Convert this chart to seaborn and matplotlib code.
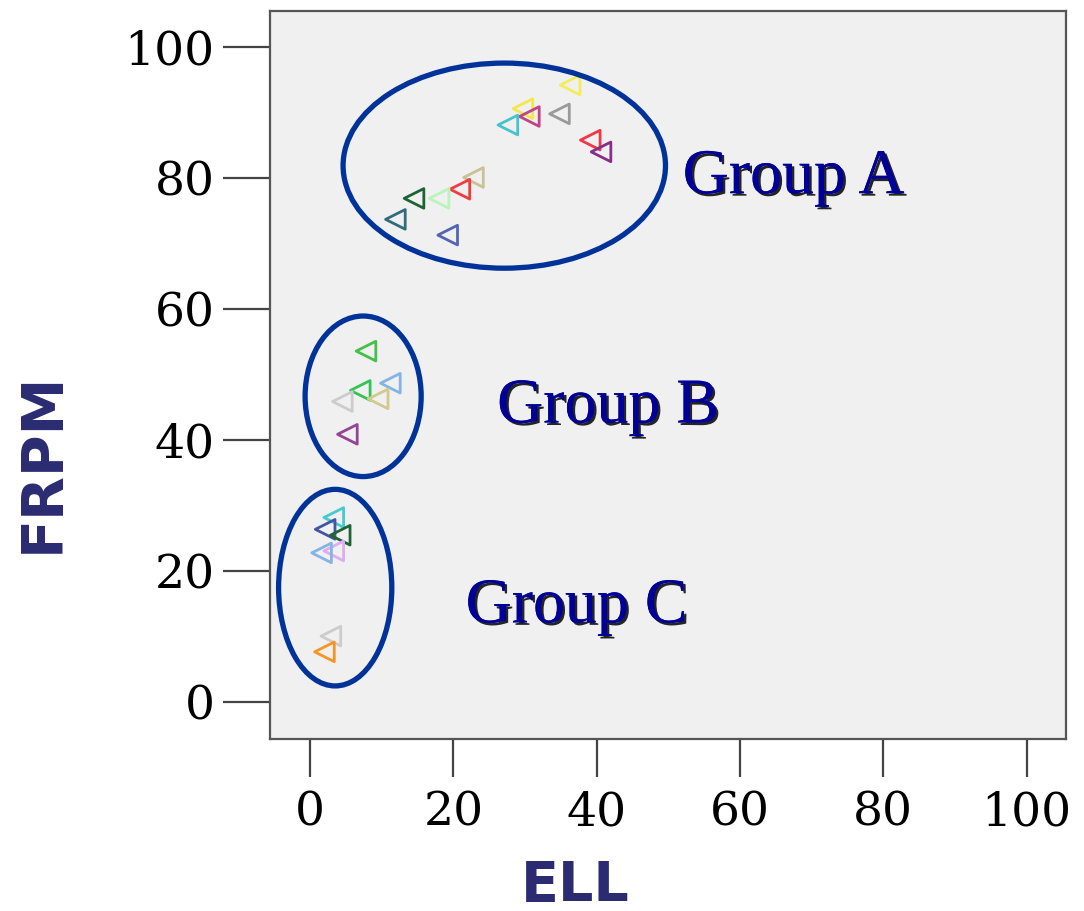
import matplotlib
matplotlib.use("Agg")
import matplotlib.pyplot as plt
import matplotlib.patheffects as pe
from matplotlib.patches import Ellipse
import seaborn as sns
import pandas as pd

# ---- data ----
ell = [36.3, 29.7, 30.6, 34.8, 27.6, 39.1, 40.6, 22.8, 20.9, 18.0, 14.5, 11.9, 19.2,
       7.8, 11.2, 7.0, 9.5, 4.5, 5.2,
       3.3, 2.1, 4.2, 3.3, 1.6, 2.9, 2.0]
frpm = [94.2, 90.6, 89.4, 89.8, 88.1, 85.8, 84.0, 80.1, 78.3, 76.9, 76.9, 73.7, 71.3,
        53.6, 48.7, 47.6, 46.3, 45.9, 40.9,
        28.2, 26.4, 25.5, 23.1, 22.8, 10.1, 7.7]
point_colors = ["#f2ee5a", "#f2e84c", "#c04488", "#9a9a9a", "#44c4cc", "#f03848", "#843088",
                "#c8c294", "#f03c40", "#bcf2bc", "#1c6434", "#306c7c", "#5464b4",
                "#44c048", "#84b4e4", "#34c454", "#d2ca8c", "#cccccc", "#944494",
                "#44cccc", "#4454a4", "#206434", "#dcacf4", "#84b4e4", "#cccccc", "#f89424"]
schools = [f"S{i+1}" for i in range(len(ell))]

group_labels = ["Group A", "Group B", "Group C"]
label_x = [52.0, 26.1, 21.7]
label_y = [77.7, 42.7, 12.2]
ell_cx = [27.1, 7.4, 3.5]
ell_cy = [81.9, 46.7, 17.5]
ell_w = [45.0, 16.2, 15.8]
ell_h = [31.3, 24.5, 30.0]

x_ticks = [0, 20, 40, 60, 80, 100]
y_ticks = [0, 20, 40, 60, 80, 100]

df = pd.DataFrame({"ELL": ell, "FRPM": frpm, "school": schools})

sns.set_style("white")
fig = plt.figure(figsize=(10.84, 9.11), dpi=100)
ax = fig.add_axes([270 / 1084, 1 - 739 / 911, (1066 - 270) / 1084, (739 - 11) / 911])
ax.set_facecolor("#f0f0f0")

sns.scatterplot(data=df, x="ELL", y="FRPM", hue="school", palette=point_colors,
                marker="<", s=200, legend=False, ax=ax, zorder=3)
for coll in ax.collections:
    fc = coll.get_facecolors()
    coll.set_edgecolors(fc)
    coll.set_facecolors("none")
    coll.set_linewidths(2.0)

for cx, cy, w, h in zip(ell_cx, ell_cy, ell_w, ell_h):
    ax.add_patch(Ellipse((cx, cy), w, h, fill=False, edgecolor="#003399", linewidth=3.8, zorder=4))

for t, x, y in zip(group_labels, label_x, label_y):
    ax.text(x, y, t, fontsize=46, family="Liberation Serif", color="#000099",
            ha="left", va="baseline", zorder=5,
            path_effects=[pe.withSimplePatchShadow(offset=(1.8, -1.8), shadow_rgbFace="black", alpha=0.85),
                          pe.Normal()])

ax.set_xlim(-5.6, 105.5)
ax.set_ylim(-5.6, 105.5)
ax.set_xticks(x_ticks)
ax.set_yticks(y_ticks)
ax.set_xticklabels([str(v) for v in x_ticks], family="DejaVu Serif", fontsize=34, color="black")
ax.set_yticklabels([str(v) for v in y_ticks], family="DejaVu Serif", fontsize=34, color="black")
ax.tick_params(axis="x", length=27, width=1.6, color="#444444", pad=10, direction="out", bottom=True)
ax.tick_params(axis="y", length=34, width=1.6, color="#444444", pad=6, direction="out", left=True)
for sp in ax.spines.values():
    sp.set_color("#555555")
    sp.set_linewidth(1.6)

ax.set_xlabel("")
ax.set_ylabel("")
fig.text(575 / 1084, 1 - 886 / 911, "ELL", fontsize=40, fontweight="bold", family="DejaVu Sans",
         color="#2b2b72", ha="center", va="center")
fig.text(43 / 1084, 1 - 462 / 911, "FRPM", fontsize=41, fontweight="bold", family="DejaVu Sans",
         color="#2b2b72", ha="center", va="center", rotation=90)

fig.savefig("out.png", dpi=100)
